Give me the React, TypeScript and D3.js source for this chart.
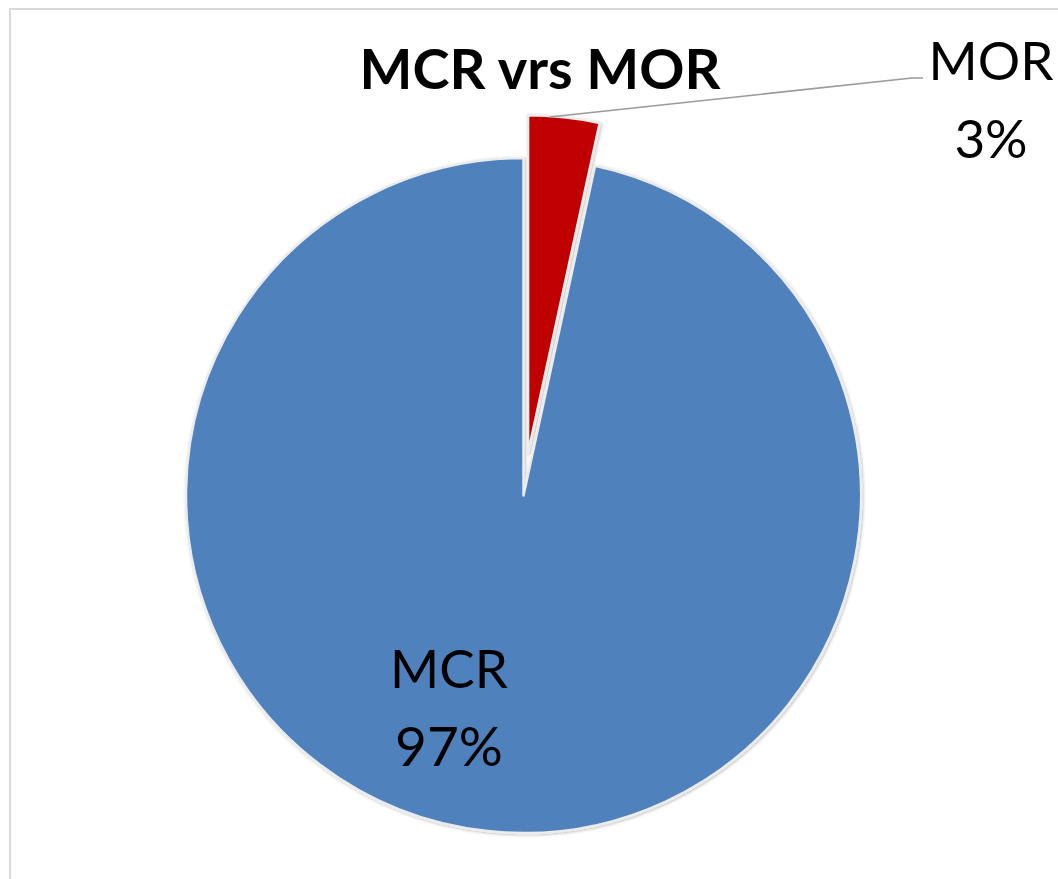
import { useMemo } from 'react';
import { pie, arc } from 'd3';

const CATEGORIES = ['MOR', 'MCR'];
const VALUES = [3.4, 96.6];
const LABELS = ['3%', '97%'];
const COLORS = ['#C00000', '#4F81BD'];
const TITLE = 'MCR vrs MOR';

const W = 1058;
const H = 879;
const CX = 523.5;
const CY = 495.5;
const R = 337.5;
const EXPLODE = 43;
const FONT = 'Lato, "Open Sans", sans-serif';

export default function App() {
  const slices = useMemo(
    () =>
      pie<number>()
        .sort(null)
        .startAngle(0)
        .endAngle(Math.PI * 2)(VALUES),
    []
  );
  const gen = arc<any>().innerRadius(0).outerRadius(R);

  // explode the small slice along its bisector
  const offset = (i: number) => {
    if (i !== 0) return [0, 0];
    const s = slices[i];
    const mid = (s.startAngle + s.endAngle) / 2;
    return [Math.sin(mid) * EXPLODE, -Math.cos(mid) * EXPLODE];
  };

  // leader from the MOR slice's outer edge to its label
  const mor = slices[0];
  const [ox, oy] = offset(0);
  const la = mor.startAngle + (mor.endAngle - mor.startAngle) * 0.3;
  const lx0 = CX + ox + Math.sin(la) * R;
  const ly0 = CY + oy - Math.cos(la) * R;

  return (
    <svg
      width={W}
      height={H}
      style={{ position: 'absolute', left: 0, top: 0, background: '#fff' }}
    >
      <defs>
        <filter id="sh" x="-10%" y="-10%" width="120%" height="120%">
          <feDropShadow dx="1" dy="1" stdDeviation="1.5" floodColor="#000" floodOpacity="0.25" />
        </filter>
      </defs>
      <rect x={10} y={9} width={1200} height={1000} fill="none" stroke="#d9d9d9" strokeWidth={2} />
      <g filter="url(#sh)">
        {slices.map((s, i) => {
          const [dx, dy] = offset(i);
          return (
            <path
              key={CATEGORIES[i]}
              d={gen(s) ?? ''}
              transform={`translate(${CX + dx},${CY + dy})`}
              fill={COLORS[i]}
              stroke="#ececec"
              strokeWidth={2.5}
              strokeLinejoin="round"
            />
          );
        })}
      </g>
      <polyline
        points={`${lx0},${ly0 + 1} 912,78 923,78`}
        fill="none"
        stroke="#9a9a9a"
        strokeWidth={1.5}
      />
      <text x={540} y={89} textAnchor="middle" fontFamily={FONT} fontWeight="bold" fontSize={56} fill="#000">
        {TITLE}
      </text>
      <text x={991} y={80} textAnchor="middle" fontFamily={FONT} fontSize={53} fill="#000">
        {CATEGORIES[0]}
      </text>
      <text x={991} y={158} textAnchor="middle" fontFamily={FONT} fontSize={53} fill="#000">
        {LABELS[0]}
      </text>
      <text x={449} y={688} textAnchor="middle" fontFamily={FONT} fontSize={53} fill="#000">
        {CATEGORIES[1]}
      </text>
      <text x={449} y={766} textAnchor="middle" fontFamily={FONT} fontSize={55} fill="#000">
        {LABELS[1]}
      </text>
    </svg>
  );
}
